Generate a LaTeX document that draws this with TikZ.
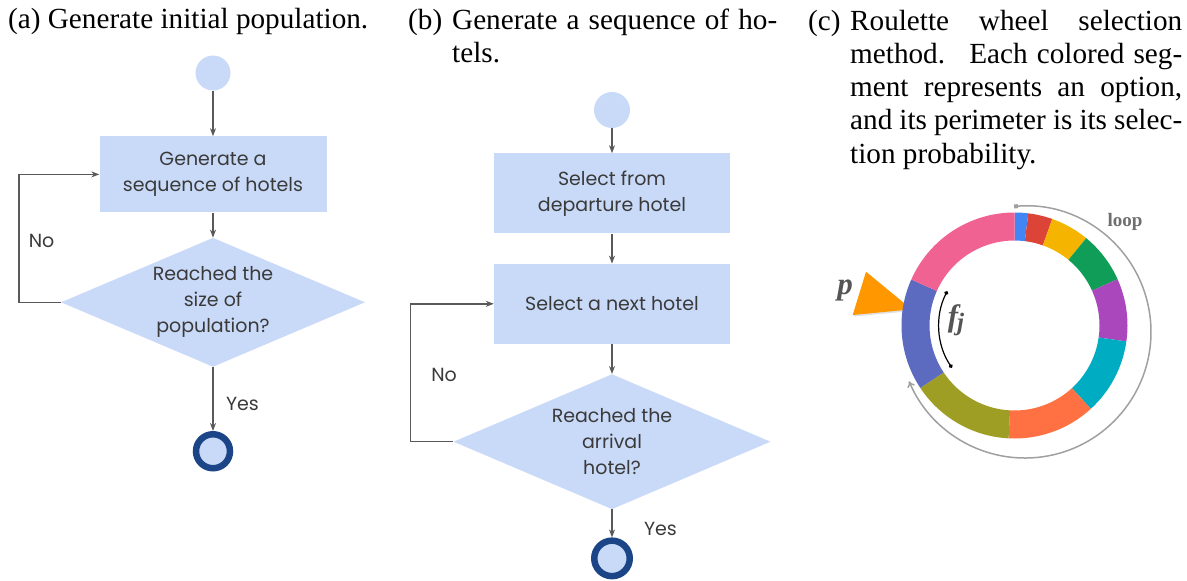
\documentclass[tikz,border=0pt]{standalone}
\usepackage{fontspec}
\setmainfont{Liberation Serif}
\newfontfamily\flowfont{Poppins}
\usetikzlibrary{arrows.meta,positioning,shapes.geometric}

\definecolor{boxblue}{HTML}{C9DAF8}
\definecolor{endblue}{HTML}{1C4587}
\definecolor{linegray}{HTML}{595959}
\definecolor{flowink}{HTML}{3A3A3A}
\definecolor{loopgray}{HTML}{A0A0A0}
\definecolor{labelgray}{HTML}{555555}
\definecolor{porange}{HTML}{FF9800}
\definecolor{wblue}{HTML}{4285F4}
\definecolor{wred}{HTML}{DB4437}
\definecolor{wyellow}{HTML}{F4B400}
\definecolor{wgreen}{HTML}{0F9D58}
\definecolor{wpurple}{HTML}{AB47BC}
\definecolor{wcyan}{HTML}{00ACC1}
\definecolor{worange}{HTML}{FF7043}
\definecolor{wolive}{HTML}{9E9D24}
\definecolor{windigo}{HTML}{5C6BC0}
\definecolor{wpink}{HTML}{F06292}

\tikzset{
  flowtext/.style={font=\flowfont\fontsize{19}{26}\selectfont, text=flowink},
  startnode/.style={circle, fill=boxblue, minimum size=35pt, inner sep=0pt},
  endnode/.style={circle, fill=boxblue, draw=endblue, line width=6.5pt, minimum size=34pt, inner sep=0pt},
  procbox/.style={rectangle, fill=boxblue, flowtext, align=center, inner sep=0pt},
  decision/.style={diamond, fill=boxblue, flowtext, align=center, inner sep=0pt},
  flow/.style={draw=linegray, line width=1.4pt, -{Stealth[length=8pt,width=6pt]}},
  caption/.style={font=\fontsize{29.2}{33.3}\selectfont, inner sep=0pt},
  wheellabel/.style={font=\bfseries\itshape\fontsize{31}{31}\selectfont, text=labelgray, inner sep=0pt},
}

\begin{document}
\begin{tikzpicture}[x=1pt,y=-1pt]
\useasboundingbox (0,0) rectangle (1187,581);

% captions
\node[caption, anchor=base west] (capa) at (8,28) {(a) Generate initial population.};
\node[caption, anchor=base west] (capb) at (408,29) {\parbox[t]{380pt}{%
  \makebox[44pt][l]{(b)}\makebox[325pt][s]{Generate a sequence of ho-}\\
  \hspace*{44pt}tels.}};
\node[caption, anchor=base west] (capc) at (808,30) {\parbox[t]{380pt}{%
  \makebox[42pt][l]{(c)}\makebox[332pt][s]{Roulette wheel selection}\\
  \hspace*{42pt}\makebox[332pt][s]{method. \ Each colored seg-}\\
  \hspace*{42pt}\makebox[332pt][s]{ment represents an option,}\\
  \hspace*{42pt}\makebox[332pt][s]{and its perimeter is its selec-}\\
  \hspace*{42pt}tion probability.}};

% (a) initial population
\node[startnode] (a0) at (213,73) {};
\node[procbox, minimum width=227pt, minimum height=76pt, below=45.5pt of a0] (a1) {Generate a\\sequence of hotels};
\node[decision, aspect=2.36, minimum width=304pt, minimum height=129pt, below=25pt of a1] (a2) {Reached the\\size of\\population?};
\node[endnode, below=64pt of a2] (a3) {};

\draw[flow] (a0) -- (a1);
\draw[flow] (a1) -- (a2);
\draw[flow] (a2) -- node[right=9pt, yshift=-5pt, flowtext] (yesa) {Yes} (a3);
\draw[flow] (a2.west) -- ++(-42,0) |- node[pos=.25, right=6pt, yshift=-3pt, flowtext] (noa) {No} (a1.west);

% (b) sequence of hotels
\node[startnode, minimum size=36pt] (b0) at (612,110) {};
\node[procbox, minimum width=236pt, minimum height=80pt, below=25pt of b0] (b1) {Select from\\departure hotel};
\node[procbox, minimum width=236pt, minimum height=80pt, below=30pt of b1] (b2) {Select a next hotel};
\node[decision, aspect=2.35, minimum width=317pt, minimum height=135pt, below=30pt of b2] (b3) {Reached the\\arrival\\hotel?};
\node[endnode, minimum size=35.5pt, below=28pt of b3] (b4) {};

\draw[flow] (b0) -- (b1);
\draw[flow] (b1) -- (b2);
\draw[flow] (b2) -- (b3);
\draw[flow] (b3) -- node[right=28pt, yshift=-6pt, flowtext] (yesb) {Yes} (b4);
\draw[flow] (b3.west) -- ++(-43,0) |- node[pos=.25, right=17pt, yshift=-2pt, flowtext] (nob) {No} (b2.west);

% (c) roulette wheel
\fill[black!12] (867,273) -- (912.7,311) -- (853.5,316.5) -- cycle;
\fill[porange] (866,271.7) -- (911.7,309.3) -- (852.7,315) -- cycle;
\node[wheellabel] (plabel) at (845,290) {p};

\begin{scope}[shift={(1014.5,325.5)}, y=1pt]
  \foreach \a/\b/\c in {90/83/wblue, 83/70.5/wred, 70.5/50.6/wyellow, 50.6/24.2/wgreen,
                        24.2/-8.1/wpurple, -8.1/-47.5/wcyan, -47.5/-93/worange,
                        -93/-146.5/wolive, -146.5/-204/windigo, -204/-270/wpink}
    \fill[\c] (\a:113) arc[start angle=\a, end angle=\b, radius=113]
      -- (\b:85) arc[start angle=\b, end angle=\a, radius=85] -- cycle;
  \coordinate (loopstart) at (-0.5,119);
  \draw[loopgray, line width=1.5pt, {Square[length=4pt,width=4pt]}-{To[length=6pt,width=8pt]}]
    (loopstart) arc[start angle=95, end angle=-157, radius=126];
  \coordinate (fjstart) at (153:75.5);
  \draw[black, line width=1.2pt, {Circle[length=4pt]}-{Circle[length=4pt]}]
    (fjstart) arc[start angle=153, end angle=214, radius=75.5];
\end{scope}
\node[wheellabel] (fjlabel) at (956,320) {f\kern-1pt\raisebox{-4pt}{\fontsize{25}{25}\selectfont j}};
\node[wheellabel, font=\bfseries\fontsize{19}{19}\selectfont, text=labelgray!85!white] (looplabel) at (1125,222) {loop};
\end{tikzpicture}
\end{document}
